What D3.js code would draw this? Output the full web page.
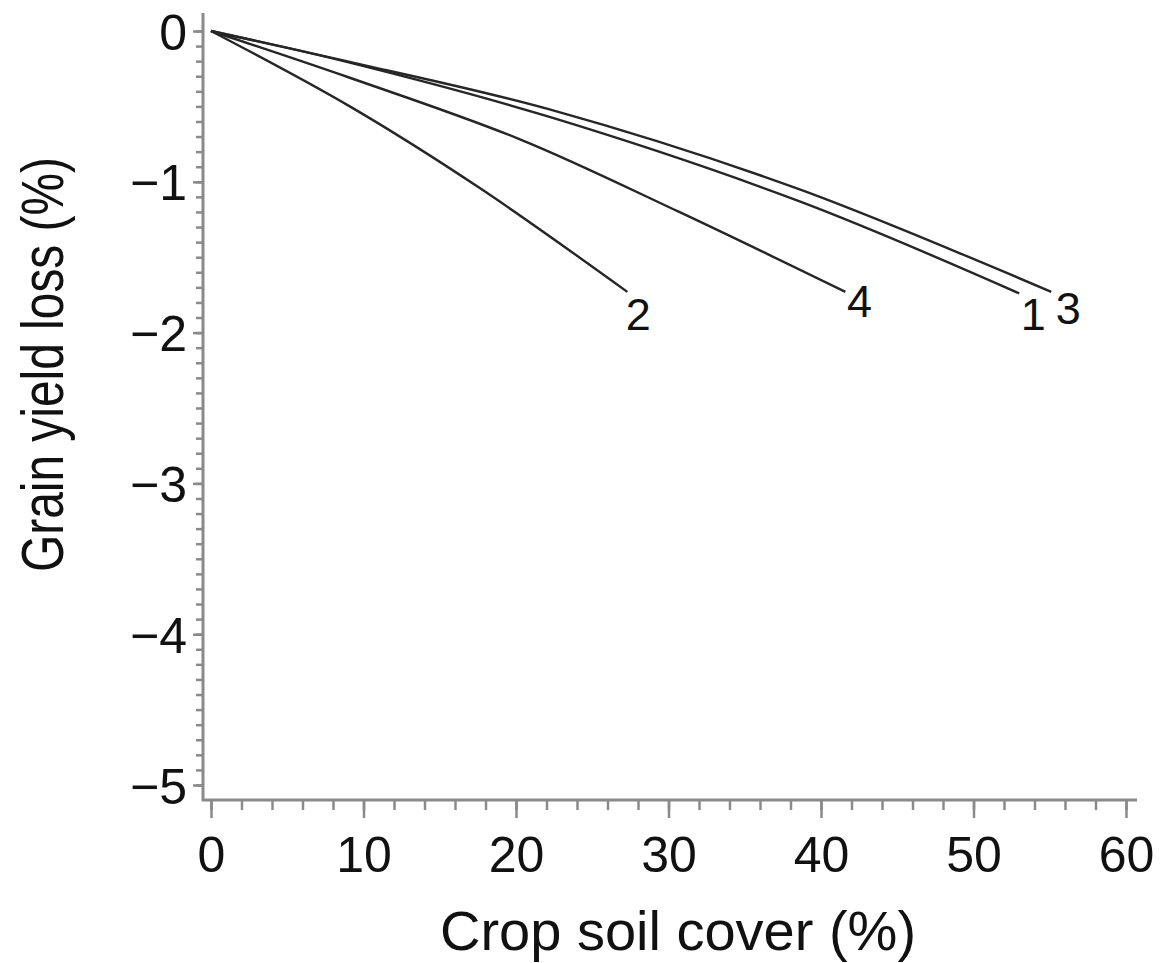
<!DOCTYPE html>
<html>
<head>
<meta charset="utf-8">
<script src="https://cdn.jsdelivr.net/npm/d3@7"></script>
<style>
  body { margin: 0; background: #fff; }
  svg { display: block; }
  text { font-family: "Liberation Sans", Arial, sans-serif; fill: #111; }
</style>
</head>
<body>
<div id="chart"></div>
<script>
// data: [crop soil cover %, grain yield loss %]
var curve1 = [[0, 0], [9.1, -0.21], [22.2, -0.57], [38.6, -1.13], [53.0, -1.74]];
var curve2 = [[0, 0], [9.1, -0.50], [17.6, -1.04], [27.3, -1.73]];
var curve3 = [[0, 0], [9.1, -0.205], [22.2, -0.52], [38.6, -1.05], [55.1, -1.73]];
var curve4 = [[0, 0], [9.1, -0.31], [20.3, -0.72], [30.7, -1.20], [41.6, -1.73]];
var curveNames = ["1", "2", "3", "4"];
var xTicks = [0, 10, 20, 30, 40, 50, 60];
var yTicks = [0, -1, -2, -3, -4, -5];

var W = 1167, H = 963;
var svg = d3.select("#chart").append("svg").attr("width", W).attr("height", H);

var x = d3.scaleLinear().domain([0, 60]).range([211, 1126]);
var y = d3.scaleLinear().domain([0, -5]).range([31, 785]);
var axisColor = "#8a8a8a";

// axis lines (they run a bit past the data range)
svg.append("line").attr("x1", 203).attr("x2", 203).attr("y1", 13).attr("y2", 801)
  .attr("stroke", axisColor).attr("stroke-width", 3);
svg.append("line").attr("x1", 202).attr("x2", 1137).attr("y1", 800).attr("y2", 800)
  .attr("stroke", axisColor).attr("stroke-width", 3);

// y axis: minor ticks every 0.1, major every 1
var yMinor = d3.range(0, 51).map(function(i) { return -i / 10; });
var gyMinor = svg.append("g").attr("transform", "translate(203,0)")
  .call(d3.axisLeft(y).tickValues(yMinor).tickSize(7).tickFormat(""));
var gy = svg.append("g").attr("transform", "translate(203,0)")
  .call(d3.axisLeft(y).tickValues(yTicks).tickSize(10).tickPadding(6).tickFormat(d3.format("d")));

// x axis: minor every 2, major every 10
var xMinor = d3.range(0, 31).map(function(i) { return i * 2; });
var gxMinor = svg.append("g").attr("transform", "translate(0,800)")
  .call(d3.axisBottom(x).tickValues(xMinor).tickSize(10).tickFormat(""));
var gx = svg.append("g").attr("transform", "translate(0,800)")
  .call(d3.axisBottom(x).tickValues(xTicks).tickSize(18).tickPadding(18).tickFormat(d3.format("d")));

[gyMinor, gy, gxMinor, gx].forEach(function(g) {
  g.select(".domain").remove();
  g.selectAll(".tick line").attr("stroke", axisColor).attr("stroke-width", 2.5);
  g.selectAll(".tick text").attr("font-size", 50).attr("fill", "#111")
    .attr("font-family", "'Liberation Sans', Arial, sans-serif");
});
gy.selectAll(".tick text").attr("dy", "0.36em");
gx.selectAll(".tick text").attr("dy", "0.72em");

// curves
var line = d3.line().x(function(d) { return x(d[0]); }).y(function(d) { return y(d[1]); })
  .curve(d3.curveCatmullRom);
var series = [curve1, curve2, curve3, curve4];
// label offsets from each curve's last point (pixels)
var labelOffset = [[14, 37], [11, 38], [17, 32], [14, 25]];

series.forEach(function(s, i) {
  svg.append("path").datum(s).attr("d", line)
    .attr("fill", "none").attr("stroke", "#262626").attr("stroke-width", 2.4);
  var last = s[s.length - 1];
  svg.append("text")
    .attr("x", x(last[0]) + labelOffset[i][0])
    .attr("y", y(last[1]) + labelOffset[i][1])
    .attr("text-anchor", "middle")
    .attr("font-size", 45)
    .text(curveNames[i]);
});

// axis titles
svg.append("text").attr("x", 678).attr("y", 950).attr("text-anchor", "middle")
  .attr("font-size", 56).text("Crop soil cover (%)");
svg.append("text").attr("transform", "translate(63,572) rotate(-90)")
  .attr("font-size", 59)
  .attr("textLength", 415).attr("lengthAdjust", "spacingAndGlyphs")
  .text("Grain yield loss (%)");
</script>
</body>
</html>
